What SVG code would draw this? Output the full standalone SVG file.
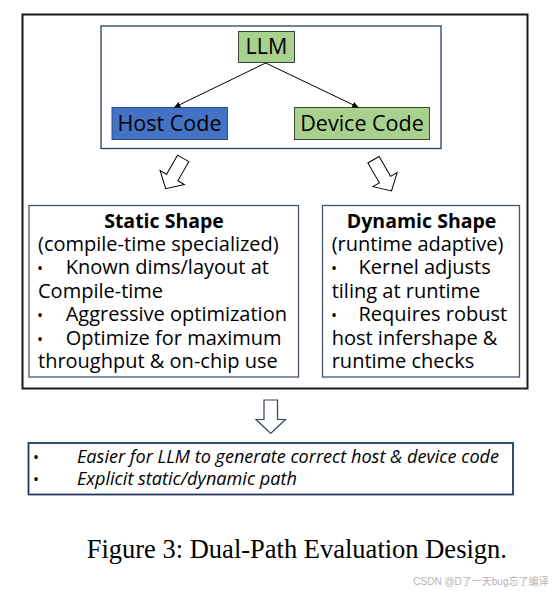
<svg xmlns="http://www.w3.org/2000/svg" width="558" height="592" viewBox="0 0 558 592">
<style>
.t{font-family:"Open Sans","Noto Sans","DejaVu Sans",sans-serif;font-size:20px;fill:#000}
.n{font-size:21.5px}
.b{font-weight:bold;font-size:19.5px}
.i{font-style:italic;font-size:18.1px}
.bu{font-size:16px}
.box{fill:#fff;stroke:#44546a;stroke-width:1.3}
.hol{fill:#fff;stroke:#000;stroke-width:1}
.cap{font-family:"Liberation Serif","Times New Roman",serif;font-size:26.5px;fill:#000}
.wm{font-family:"Liberation Sans","Noto Sans CJK SC",sans-serif;font-size:10px;fill:#b4b4b4}
</style>
<defs>
<marker id="ah" viewBox="0 0 10 10" refX="10" refY="5" markerWidth="6" markerHeight="6" orient="auto" markerUnits="userSpaceOnUse">
<path d="M0,0 L10,5 L0,10 z" fill="#000"/>
</marker>
</defs>
<rect width="558" height="592" fill="#fff"/>
<g id="frame"><rect x="22.5" y="14.5" width="505" height="374" fill="#fff" stroke="#1a1a1a" stroke-width="2"/></g>
<g id="gen"><rect x="101" y="26" width="340" height="122.5" fill="#fff" stroke="#2f3e5c" stroke-width="1.3"/></g>
<g id="llm"><rect x="238.5" y="31.5" width="56" height="31" fill="#a9d18e" stroke="#3a4a30" stroke-width="1"/><text class="t n" x="266.5" y="54" text-anchor="middle">LLM</text></g>
<g id="host"><rect x="112" y="107.5" width="115.5" height="32" fill="#4472c4" stroke="#2f4b7f" stroke-width="1"/><text class="t n" x="169.5" y="130.5" text-anchor="middle">Host Code</text></g>
<g id="device"><rect x="294.5" y="107.5" width="135" height="32" fill="#a9d18e" stroke="#3a4a30" stroke-width="1"/><text class="t n" x="362" y="130.5" text-anchor="middle">Device Code</text></g>
<g id="connectors">
<line x1="265.7" y1="63" x2="174.3" y2="107.3" stroke="#000" stroke-width="1" marker-end="url(#ah)"/>
<line x1="265.7" y1="63" x2="358.3" y2="107.3" stroke="#000" stroke-width="1" marker-end="url(#ah)"/>
<polygon class="hol" transform="translate(183.2,158.4) rotate(30)" points="-6.5,0 6.5,0 6.5,22 14,22 0,35 -14,22 -6.5,22"/>
<polygon class="hol" transform="translate(373.5,159.7) rotate(-30)" points="-6.5,0 6.5,0 6.5,23 14,23 0,36 -14,23 -6.5,23"/>
<polygon fill="#fff" stroke="#2f4260" stroke-width="1.2" points="264,400 277.5,400 277.5,419.5 285.5,419.5 270.7,433.5 256,419.5 264,419.5"/>
</g>
<g id="static">
<rect class="box" x="29" y="205.5" width="269.5" height="171.5"/>
<text class="t b" x="164" y="227.5" text-anchor="middle">Static Shape</text>
<text class="t" x="38" y="250.5">(compile-time specialized)</text>
<text class="t bu" x="37" y="274">•</text><text class="t" x="65.7" y="274">Known dims/layout at</text>
<text class="t" x="38" y="297.5">Compile-time</text>
<text class="t bu" x="37" y="321">•</text><text class="t" x="65.7" y="321">Aggressive optimization</text>
<text class="t bu" x="37" y="344.5">•</text><text class="t" x="65.7" y="344.5">Optimize for maximum</text>
<text class="t" x="38" y="368">throughput &amp; on-chip use</text>
</g>
<g id="dynamic">
<rect class="box" x="322.5" y="205.5" width="197" height="171.5"/>
<text class="t b" x="421.6" y="227.5" text-anchor="middle">Dynamic Shape</text>
<text class="t" x="331.7" y="250.5">(runtime adaptive)</text>
<text class="t bu" x="331" y="274">•</text><text class="t" x="358.5" y="274">Kernel adjusts</text>
<text class="t" x="331.7" y="297.5">tiling at runtime</text>
<text class="t bu" x="331" y="321">•</text><text class="t" x="358.5" y="321">Requires robust</text>
<text class="t" x="331.7" y="344.5">host infershape &amp;</text>
<text class="t" x="331.7" y="368">runtime checks</text>
</g>
<g id="summary">
<rect x="28.5" y="443" width="484.5" height="51.5" fill="#fff" stroke="#1f3864" stroke-width="1.8"/>
<text class="t bu" x="33" y="463">•</text><text class="t i" x="77" y="463">Easier for LLM to generate correct host &amp; device code</text>
<text class="t bu" x="33" y="484.5">•</text><text class="t i" x="77" y="484.5">Explicit static/dynamic path</text>
</g>
<text class="cap" x="86.7" y="558.3">Figure 3: Dual-Path Evaluation Design.</text>
<text class="wm" x="413.3" y="585">CSDN @D了一天bug忘了编译</text>
</svg>
